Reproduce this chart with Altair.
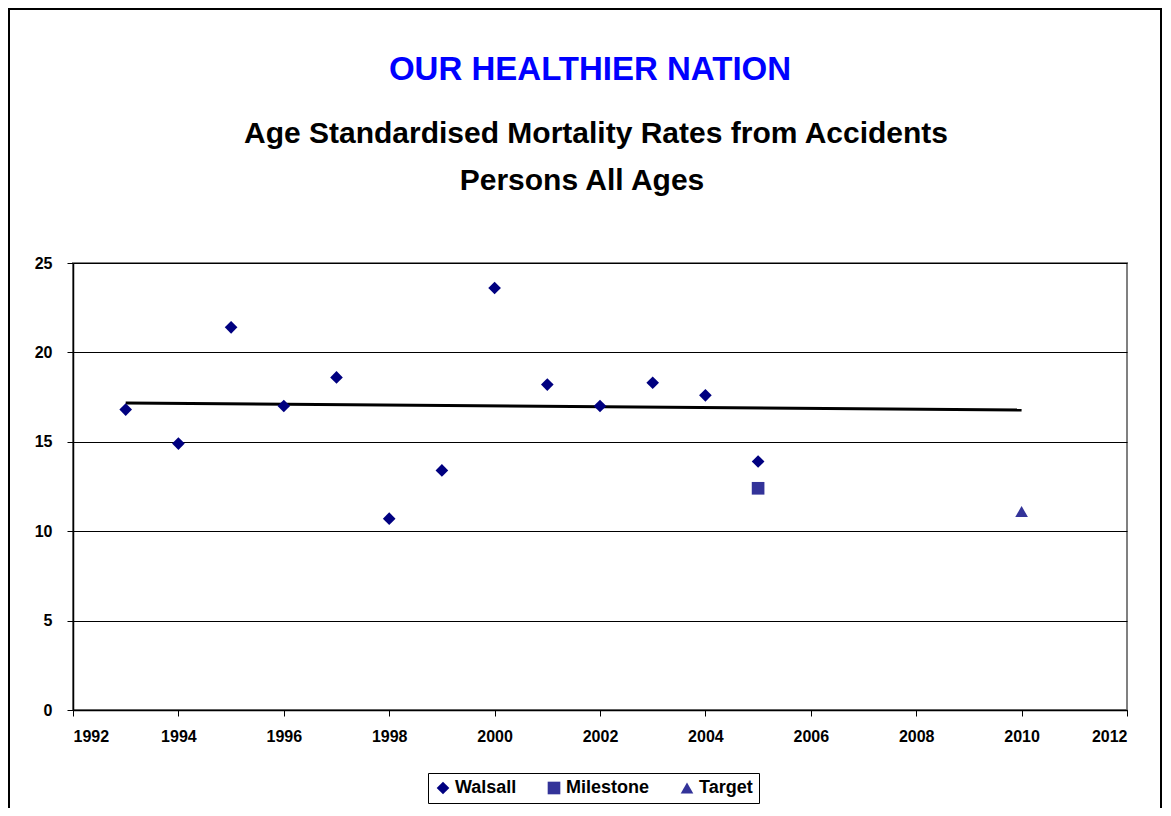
import altair as alt
import pandas as pd

walsall_years = [1993, 1994, 1995, 1996, 1997, 1998, 1999, 2000, 2001, 2002, 2003, 2004, 2005]
walsall_values = [16.8, 14.9, 21.4, 17.0, 18.6, 10.7, 13.4, 23.6, 18.2, 17.0, 18.3, 17.6, 13.9]
milestone_years = [2005]
milestone_values = [12.4]
target_years = [2010]
target_values = [11.1]
series_names = ["Walsall", "Milestone", "Target"]
x_ticks = list(range(1992, 2013, 2))
y_ticks = [0, 5, 10, 15, 20, 25]
title_text = "OUR HEALTHIER NATION"
subtitle_lines = ["Age Standardised Mortality Rates from Accidents", "Persons All Ages"]

rows = []
for y, v in zip(walsall_years, walsall_values):
    rows.append({"year": y, "value": v, "series": "Walsall"})
for y, v in zip(milestone_years, milestone_values):
    rows.append({"year": y, "value": v, "series": "Milestone"})
for y, v in zip(target_years, target_values):
    rows.append({"year": y, "value": v, "series": "Target"})
df = pd.DataFrame(rows)

FONT = "Liberation Sans"

x_enc = alt.X("year:Q", scale=alt.Scale(domain=[1992, 2012], nice=False, zero=False),
              axis=alt.Axis(values=x_ticks, format="d", title=None, grid=False,
                            domainColor="black", domainWidth=1.5, tickColor="black",
                            tickSize=6, labelFont=FONT, labelFontSize=16,
                            labelFontWeight="bold", labelColor="black", labelPadding=12))
y_enc = alt.Y("value:Q", scale=alt.Scale(domain=[0, 25], nice=False),
              axis=alt.Axis(values=y_ticks, title=None, grid=True, gridColor="black",
                            gridWidth=1, domainColor="black", domainWidth=1.5,
                            tickColor="black", tickSize=6, labelFont=FONT,
                            labelFontSize=16, labelFontWeight="bold",
                            labelColor="black", labelPadding=15))

legend_cfg = dict(title=None, orient="none", legendX=355, legendY=510,
                  direction="horizontal")

points = alt.Chart(df).mark_point(filled=True, size=160, opacity=1).encode(
    x=x_enc,
    y=y_enc,
    color=alt.Color("series:N",
                    scale=alt.Scale(domain=series_names,
                                    range=["#000080", "#333399", "#333399"]),
                    legend=alt.Legend(strokeColor="black", padding=6,
                                      labelFont=FONT, labelFontSize=18,
                                      labelFontWeight="bold", labelColor="black",
                                      symbolSize=160, columnPadding=28,
                                      labelOffset=3, symbolStrokeWidth=0,
                                      **legend_cfg)),
    shape=alt.Shape("series:N",
                    scale=alt.Scale(domain=series_names,
                                    range=["diamond", "square", "triangle-up"]),
                    legend=alt.Legend(**legend_cfg)),
)

trend = alt.Chart(df).transform_filter(
    alt.datum.series == "Walsall"
).transform_regression(
    "year", "value", extent=[1993, 2010]
).mark_line(color="black", strokeWidth=3).encode(
    x="year:Q", y="value:Q"
)

frame = alt.Chart(df).mark_rect(fill=None, stroke="black", strokeWidth=2, clip=False).encode(
    x=alt.value(-64), x2=alt.value(1088), y=alt.value(-254), y2=alt.value(600)
)


def title_layer(text, size, color, xpos, ypos):
    return alt.Chart(pd.DataFrame({"t": [text]})).mark_text(
        font=FONT, fontSize=size, fontWeight="bold", color=color,
        align="center", baseline="alphabetic", clip=False
    ).encode(text="t:N", x=alt.value(xpos), y=alt.value(ypos))


t1 = title_layer(title_text, 33, "#0000FF", 517, -183)
t2 = title_layer(subtitle_lines[0], 30, "black", 523, -120)
t3 = title_layer(subtitle_lines[1], 30, "black", 509, -73)

chart = alt.layer(frame, trend, points, t1, t2, t3).properties(
    width=1054,
    height=447,
    autosize=alt.AutoSizeParams(type="none"),
    padding={"left": 65, "top": 255, "right": 36, "bottom": 98},
).configure_view(
    stroke="#808080", strokeWidth=2
)

chart.save("out.html", embed_options={"renderer": "svg", "actions": False})
